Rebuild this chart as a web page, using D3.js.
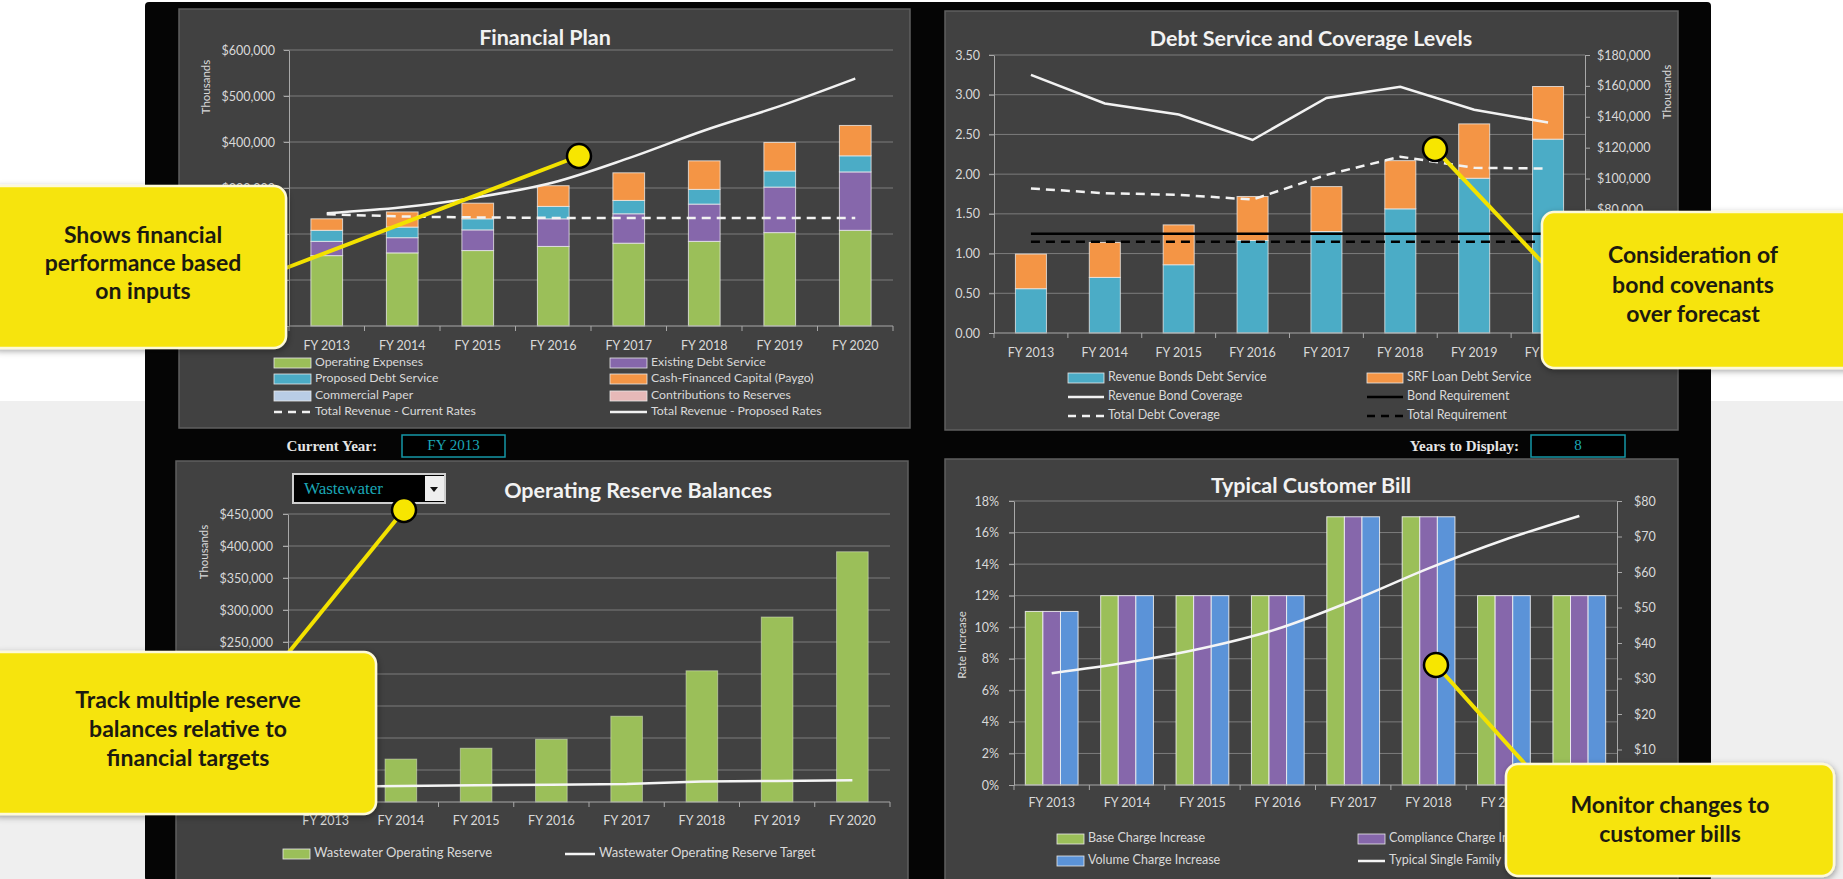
<!DOCTYPE html>
<html><head><meta charset="utf-8">
<script src="https://cdn.jsdelivr.net/npm/d3@7"></script>
<style>
body{margin:0;background:#fff;overflow:hidden}
svg text{font-family:Lato,'Open Sans',sans-serif}
svg text.serif{font-family:'Liberation Serif','DejaVu Serif',serif}
</style></head>
<body><svg id="c" width="1843" height="879"></svg>
<script>
// ---------------- DATA ----------------
const years = ["FY 2013","FY 2014","FY 2015","FY 2016","FY 2017","FY 2018","FY 2019","FY 2020"];

// Financial Plan ($ thousands)
const opExpenses      = [153000,159000,164000,173000,180000,184000,203000,208000];
const existingDebt    = [31000,33000,45000,60000,64000,81000,99000,127000];
const proposedDebt    = [24000,23000,24000,27000,29000,32000,35000,35000];
const paygo           = [25000,33000,34000,45000,60000,62000,62000,66000];
const commercialPaper = [0,0,0,0,0,0,0,0];
const contributions   = [0,0,0,0,0,0,0,0];
const revenueCurrent  = [243000,238000,236000,235000,235000,235000,235000,235000];
const revenueProposed = [245000,258000,280000,312000,365000,425000,478000,538000];
const fpTicks = [0,100000,200000,300000,400000,500000,600000];

// Debt Service and Coverage
const revBondDS         = [28700,36000,44200,59900,65700,80400,100200,125500];
const srfLoanDS         = [22400,22600,25800,28500,29100,31200,35200,34100];
const revBondCoverage   = [3.25,2.89,2.75,2.43,2.96,3.10,2.81,2.65];
const totalDebtCoverage = [1.82,1.76,1.74,1.68,1.99,2.22,2.08,2.07];
const bondRequirement   = [1.25,1.25,1.25,1.25,1.25,1.25,1.25,1.25];
const totalRequirement  = [1.15,1.15,1.15,1.15,1.15,1.15,1.15,1.15];
const covTicks = [0,0.5,1,1.5,2,2.5,3,3.5];
const dsTicks  = [0,20000,40000,60000,80000,100000,120000,140000,160000,180000];

// Operating Reserve Balances
const reserve       = [50000,67000,84000,98000,134000,205000,289000,391000];
const reserveTarget = [24000,25000,26000,27000,28000,32000,33000,34000];
const resTicks = [0,50000,100000,150000,200000,250000,300000,350000,400000,450000];

// Typical Customer Bill
const baseCharge       = [0.11,0.12,0.12,0.12,0.17,0.17,0.12,0.12];
const complianceCharge = [0.11,0.12,0.12,0.12,0.17,0.17,0.12,0.12];
const volumeCharge     = [0.11,0.12,0.12,0.12,0.17,0.17,0.12,0.12];
const typicalBill      = [31.5,34.5,38.5,44,52,61,69,75.8];
const rateTicks = [0,0.02,0.04,0.06,0.08,0.10,0.12,0.14,0.16,0.18];
const billTicks = [0,10,20,30,40,50,60,70,80];

// ---------------- STYLE ----------------
const C = {green:"#9bbf59",purple:"#8667ab",teal:"#4bacc6",orange:"#f49545",lblue:"#b9cde5",pink:"#e6b9b8",
  blue:"#5b93d8",grid:"#7c7c7c",axis:"#a8a8a8",txt:"#d9d9d9",panel:"#414141",yellow:"#f6e40a"};

const svg = d3.select("#c");
const W=1843,H=879;
const defs = svg.append("defs");
const f = defs.append("filter").attr("id","sh").attr("x","-10%").attr("y","-10%").attr("width","130%").attr("height","130%");
f.append("feDropShadow").attr("dx",1).attr("dy",2).attr("stdDeviation",3).attr("flood-color","#000").attr("flood-opacity",0.35);

svg.append("rect").attr("width",W).attr("height",401).attr("fill","#ffffff");
svg.append("rect").attr("y",401).attr("width",W).attr("height",H-401).attr("fill","#efefef");
svg.append("rect").attr("x",145).attr("y",2).attr("width",1711-145).attr("height",H).attr("rx",4).attr("fill","#050505");

[[179,9,910,428],[945,11,1678,430],[176,461,908,900],[945,459,1678,900]].forEach(p=>{
  svg.append("rect").attr("x",p[0]).attr("y",p[1]).attr("width",p[2]-p[0]).attr("height",p[3]-p[1])
    .attr("fill",C.panel).attr("stroke","#5f5f5f").attr("stroke-width",1.5);
});

function styleAxis(g,fs){
  g.attr("font-family","Lato, sans-serif").attr("font-size",fs||12.5);
  g.select(".domain").attr("stroke",C.axis);
  g.selectAll(".tick line").attr("stroke",C.axis);
  g.selectAll(".tick text").attr("fill",C.txt);
}
function grid(g,ticks,y,x0,x1){
  g.selectAll(null).data(ticks).join("line").attr("x1",x0).attr("x2",x1)
    .attr("y1",d=>y(d)).attr("y2",d=>y(d)).attr("stroke",C.grid).attr("stroke-width",1);
}
function catAxis(g,x,y0,labelY){
  const r = x.range(), step = x.step();
  g.append("line").attr("x1",r[0]).attr("x2",r[1]).attr("y1",y0).attr("y2",y0).attr("stroke",C.axis);
  g.selectAll(null).data(d3.range(years.length+1)).join("line")
    .attr("x1",i=>r[0]+i*step).attr("x2",i=>r[0]+i*step).attr("y1",y0).attr("y2",y0+5).attr("stroke",C.axis);
  g.selectAll(null).data(years).join("text").attr("x",d=>x(d)+x.bandwidth()/2).attr("y",labelY)
    .attr("text-anchor","middle").attr("dominant-baseline","middle").attr("fill",C.txt).attr("font-size",12.5).text(d=>d);
}
function title(t,x,y){
  svg.append("text").attr("x",x).attr("y",y).attr("text-anchor","middle").attr("dominant-baseline","middle")
    .attr("fill","#f2f2f2").attr("font-weight","bold").attr("font-size",21.5).text(t);
}
function vlabel(t,x,y){
  svg.append("text").attr("transform",`translate(${x},${y}) rotate(-90)`).attr("text-anchor","middle")
    .attr("dominant-baseline","middle").attr("fill",C.txt).attr("font-size",11.5).text(t);
}
function legend(items,fs){
  items.forEach(it=>{
    const g = svg.append("g");
    if(it.type==="rect"){
      g.append("rect").attr("x",it.x).attr("y",it.y-5).attr("width",it.w).attr("height",10)
        .attr("fill",it.color).attr("stroke","#e8e8e8").attr("stroke-width",0.8);
    } else {
      g.append("line").attr("x1",it.x).attr("x2",it.x+it.w).attr("y1",it.y).attr("y2",it.y)
        .attr("stroke",it.color).attr("stroke-width",2.5).attr("stroke-dasharray",it.type==="dash"?"8,6":null);
    }
    g.append("text").attr("x",it.x+it.w+4).attr("y",it.y).attr("dominant-baseline","middle")
      .attr("fill",C.txt).attr("font-size",fs).text(it.label);
  });
}

// ---------------- FINANCIAL PLAN ----------------
{
  const g = svg.append("g");
  const x = d3.scaleBand().domain(years).range([289,893]).paddingInner(0.58).paddingOuter(0.29);
  const y = d3.scaleLinear().domain([0,600000]).range([326,50]);
  grid(g,fpTicks.slice(1),y,283,893);
  const ya = g.append("g").attr("transform","translate(289,0)")
    .call(d3.axisLeft(y).tickValues(fpTicks).tickFormat(d=>"$"+d3.format(",")(d)).tickSize(5).tickSizeOuter(0).tickPadding(9));
  styleAxis(ya);
  const table = years.map((yr,i)=>({year:yr,opExpenses:opExpenses[i],existingDebt:existingDebt[i],proposedDebt:proposedDebt[i],
     paygo:paygo[i],commercialPaper:commercialPaper[i],contributions:contributions[i]}));
  const keys = ["opExpenses","existingDebt","proposedDebt","paygo","commercialPaper","contributions"];
  const cols = [C.green,C.purple,C.teal,C.orange,C.lblue,C.pink];
  const st = d3.stack().keys(keys)(table);
  g.selectAll(null).data(st).join("g").attr("fill",(d,i)=>cols[i])
    .selectAll("rect").data(d=>d.filter(s=>s[1]>s[0])).join("rect")
    .attr("x",d=>x(d.data.year)).attr("width",x.bandwidth())
    .attr("y",d=>y(d[1])).attr("height",d=>y(d[0])-y(d[1]))
    .attr("stroke","rgba(240,240,240,0.75)").attr("stroke-width",1);
  catAxis(g,x,326,347);
  const cx = (d,i)=>x(years[i])+x.bandwidth()/2;
  g.append("path").datum(revenueCurrent).attr("fill","none").attr("stroke","#f2f2f2").attr("stroke-width",2.5)
    .attr("stroke-dasharray","9,6").attr("d",d3.line().x(cx).y(d=>y(d)));
  g.append("path").datum(revenueProposed).attr("fill","none").attr("stroke","#f2f2f2").attr("stroke-width",2.5)
    .attr("d",d3.line().x(cx).y(d=>y(d)).curve(d3.curveMonotoneX));
  title("Financial Plan",545,39);
  vlabel("Thousands",207,87);
  legend([
    {type:"rect",x:274,y:363,w:37,color:C.green,label:"Operating Expenses"},
    {type:"rect",x:610,y:363,w:37,color:C.purple,label:"Existing Debt Service"},
    {type:"rect",x:274,y:379,w:37,color:C.teal,label:"Proposed Debt Service"},
    {type:"rect",x:610,y:379,w:37,color:C.orange,label:"Cash-Financed Capital (Paygo)"},
    {type:"rect",x:274,y:396,w:37,color:C.lblue,label:"Commercial Paper"},
    {type:"rect",x:610,y:396,w:37,color:C.pink,label:"Contributions to Reserves"},
    {type:"dash",x:274,y:412,w:37,color:"#f2f2f2",label:"Total Revenue - Current Rates"},
    {type:"line",x:610,y:412,w:37,color:"#f2f2f2",label:"Total Revenue - Proposed Rates"}
  ],12.3);
}

// ---------------- DEBT SERVICE ----------------
{
  const g = svg.append("g");
  const x = d3.scaleBand().domain(years).range([994,1585]).paddingInner(0.58).paddingOuter(0.29);
  const yL = d3.scaleLinear().domain([0,3.5]).range([333,55]);
  const yR = d3.scaleLinear().domain([0,180000]).range([333,55]);
  grid(g,covTicks.slice(1),yL,989,1585);
  const la = g.append("g").attr("transform","translate(994,0)")
    .call(d3.axisLeft(yL).tickValues(covTicks).tickFormat(d3.format(".2f")).tickSize(5).tickSizeOuter(0).tickPadding(9));
  styleAxis(la);
  const ra = g.append("g").attr("transform","translate(1585,0)")
    .call(d3.axisRight(yR).tickValues(dsTicks).tickFormat(d=>"$"+d3.format(",")(d)).tickSize(5).tickSizeOuter(0).tickPadding(7));
  styleAxis(ra);
  const table = years.map((yr,i)=>({year:yr,rev:revBondDS[i],srf:srfLoanDS[i]}));
  const st = d3.stack().keys(["rev","srf"])(table);
  g.selectAll(null).data(st).join("g").attr("fill",(d,i)=>[C.teal,C.orange][i])
    .selectAll("rect").data(d=>d).join("rect")
    .attr("x",d=>x(d.data.year)).attr("width",x.bandwidth())
    .attr("y",d=>yR(d[1])).attr("height",d=>yR(d[0])-yR(d[1]))
    .attr("stroke","rgba(240,240,240,0.75)").attr("stroke-width",1);
  catAxis(g,x,333,354);
  const cx = (d,i)=>x(years[i])+x.bandwidth()/2;
  const ln = d3.line().x(cx).y(d=>yL(d));
  g.append("path").datum(bondRequirement).attr("fill","none").attr("stroke","#000").attr("stroke-width",2.5).attr("d",ln);
  g.append("path").datum(totalRequirement).attr("fill","none").attr("stroke","#000").attr("stroke-width",2.5).attr("stroke-dasharray","9,6").attr("d",ln);
  g.append("path").datum(revBondCoverage).attr("fill","none").attr("stroke","#f2f2f2").attr("stroke-width",2.5).attr("d",ln);
  g.append("path").datum(totalDebtCoverage).attr("fill","none").attr("stroke","#f2f2f2").attr("stroke-width",2.5).attr("stroke-dasharray","9,6").attr("d",ln);
  title("Debt Service and Coverage Levels",1311,40);
  vlabel("Thousands",1668,92);
  legend([
    {type:"rect",x:1068,y:378,w:36,color:C.teal,label:"Revenue Bonds Debt Service"},
    {type:"rect",x:1367,y:378,w:36,color:C.orange,label:"SRF Loan Debt Service"},
    {type:"line",x:1068,y:397,w:36,color:"#f2f2f2",label:"Revenue Bond Coverage"},
    {type:"line",x:1367,y:397,w:36,color:"#000",label:"Bond Requirement"},
    {type:"dash",x:1068,y:416,w:36,color:"#f2f2f2",label:"Total Debt Coverage"},
    {type:"dash",x:1367,y:416,w:36,color:"#000",label:"Total Requirement"}
  ],12.5);
}

// ---------------- OPERATING RESERVE ----------------
{
  const g = svg.append("g");
  const x = d3.scaleBand().domain(years).range([288,890]).paddingInner(0.58).paddingOuter(0.29);
  const y = d3.scaleLinear().domain([0,450000]).range([802,514]);
  grid(g,resTicks.slice(1),y,283,890);
  const ya = g.append("g").attr("transform","translate(288,0)")
    .call(d3.axisLeft(y).tickValues(resTicks).tickFormat(d=>"$"+d3.format(",")(d)).tickSize(5).tickSizeOuter(0).tickPadding(10));
  styleAxis(ya);
  g.selectAll(null).data(reserve).join("rect").attr("fill",C.green)
    .attr("x",(d,i)=>x(years[i])).attr("width",x.bandwidth())
    .attr("y",d=>y(d)).attr("height",d=>y(0)-y(d)).attr("stroke","rgba(230,240,210,0.5)").attr("stroke-width",1);
  catAxis(g,x,802,822);
  const cx = (d,i)=>x(years[i])+x.bandwidth()/2;
  g.append("path").datum(reserveTarget).attr("fill","none").attr("stroke","#f5f5f5").attr("stroke-width",2.5)
    .attr("d",d3.line().x(cx).y(d=>y(d)));
  title("Operating Reserve Balances",638,492);
  vlabel("Thousands",205,552);
  legend([
    {type:"rect",x:283,y:854,w:27,color:C.green,label:"Wastewater Operating Reserve"},
    {type:"line",x:565,y:854,w:30,color:"#f5f5f5",label:"Wastewater Operating Reserve Target"}
  ],13);
  // dropdown
  svg.append("rect").attr("x",293).attr("y",474).attr("width",152).attr("height",29).attr("fill","#000").attr("stroke","#cfcfcf").attr("stroke-width",2);
  svg.append("text").attr("class","serif").attr("x",304).attr("y",490).attr("dominant-baseline","middle").attr("fill","#1ba7b6")
    .attr("font-size",17).text("Wastewater");
  svg.append("rect").attr("x",425).attr("y",476).attr("width",19).attr("height",25).attr("fill","#eeeeee");
  svg.append("path").attr("d","M430,487 L438,487 L434,492 Z").attr("fill","#111");
}

// ---------------- TYPICAL CUSTOMER BILL ----------------
{
  const g = svg.append("g");
  const x = d3.scaleBand().domain(years).range([1014,1617]).paddingInner(0.3).paddingOuter(0.15);
  const xi = d3.scaleBand().domain([0,1,2]).range([0,x.bandwidth()]);
  const yL = d3.scaleLinear().domain([0,0.18]).range([785,501]);
  const yR = d3.scaleLinear().domain([0,80]).range([785,501]);
  grid(g,rateTicks.slice(1),yL,1009,1617);
  const la = g.append("g").attr("transform","translate(1014,0)")
    .call(d3.axisLeft(yL).tickValues(rateTicks).tickFormat(d3.format(".0%")).tickSize(5).tickSizeOuter(0).tickPadding(10));
  styleAxis(la);
  const ra = g.append("g").attr("transform","translate(1617,0)")
    .call(d3.axisRight(yR).tickValues(billTicks).tickFormat(d=>"$"+d).tickSize(5).tickSizeOuter(0).tickPadding(12));
  styleAxis(ra);
  const series = [baseCharge,complianceCharge,volumeCharge];
  const cols = [C.green,C.purple,C.blue];
  series.forEach((s,k)=>{
    g.selectAll(null).data(s).join("rect").attr("fill",cols[k])
      .attr("x",(d,i)=>x(years[i])+xi(k)).attr("width",xi.bandwidth())
      .attr("y",d=>yL(d)).attr("height",d=>yL(0)-yL(d)).attr("stroke","rgba(245,245,245,0.85)").attr("stroke-width",1);
  });
  catAxis(g,x,785,804);
  const cx = (d,i)=>x(years[i])+x.bandwidth()/2;
  g.append("path").datum(typicalBill).attr("fill","none").attr("stroke","#f5f5f5").attr("stroke-width",2.5)
    .attr("d",d3.line().x(cx).y(d=>yR(d)).curve(d3.curveMonotoneX));
  title("Typical Customer Bill",1311,487);
  vlabel("Rate Increase",963,645);
  legend([
    {type:"rect",x:1057,y:839,w:27,color:C.green,label:"Base Charge Increase"},
    {type:"rect",x:1358,y:839,w:27,color:C.purple,label:"Compliance Charge Increase"},
    {type:"rect",x:1057,y:861,w:27,color:C.blue,label:"Volume Charge Increase"},
    {type:"line",x:1358,y:861,w:27,color:"#f5f5f5",label:"Typical Single Family Bill"}
  ],12.5);
}

// ---------------- CONTROLS ----------------
function ctrl(label,labelRight,bx,bw,val){
  svg.append("text").attr("class","serif").attr("x",labelRight).attr("y",448).attr("text-anchor","end").attr("dominant-baseline","middle")
    .attr("fill","#e6e6e6").attr("font-weight","bold").attr("font-size",15).text(label);
  svg.append("rect").attr("x",bx).attr("y",435).attr("width",bw).attr("height",22).attr("fill","#000").attr("stroke","#1596a6").attr("stroke-width",1.5);
  svg.append("text").attr("class","serif").attr("x",bx+bw/2).attr("y",447).attr("text-anchor","middle").attr("dominant-baseline","middle")
    .attr("fill","#1ba7b6").attr("font-size",15).text(val);
}
ctrl("Current Year:",377,402,103,"FY 2013");
ctrl("Years to Display:",1519,1531,94,"8");

// ---------------- CALLOUTS ----------------
const callouts = [
  {x:-12,y:186,w:298,h:162,cx:143,lines:["Shows financial","performance based","on inputs"],ly:[237,265,293],dot:[579,156],end:[286,268]},
  {x:-12,y:652,w:388,h:162,cx:188,lines:["Track multiple reserve","balances relative to","financial targets"],ly:[702,731,760],dot:[404,510],end:[289,652]},
  {x:1542,y:212,w:320,h:156,cx:1693,lines:["Consideration of","bond covenants","over forecast"],ly:[257,287,316],dot:[1435,149],end:[1542,262]},
  {x:1506,y:764,w:328,h:112,cx:1670,lines:["Monitor changes to","customer bills"],ly:[807,836],dot:[1436,665],end:[1525,764]}
];
callouts.forEach(c=>{
  svg.append("line").attr("x1",c.dot[0]).attr("y1",c.dot[1]).attr("x2",c.end[0]).attr("y2",c.end[1])
    .attr("stroke","#f3e200").attr("stroke-width",4);
});
callouts.forEach(c=>{
  svg.append("rect").attr("x",c.x).attr("y",c.y).attr("width",c.w).attr("height",c.h).attr("rx",12)
    .attr("fill",C.yellow).attr("stroke","#fdf9d8").attr("stroke-width",2.5).attr("filter","url(#sh)");
  c.lines.forEach((t,i)=>svg.append("text").attr("x",c.cx).attr("y",c.ly[i]).attr("text-anchor","middle")
    .attr("dominant-baseline","middle").attr("fill","#1c1a10").attr("font-weight","bold").attr("font-size",23).text(t));
});
callouts.forEach(c=>{
  svg.append("circle").attr("cx",c.dot[0]).attr("cy",c.dot[1]).attr("r",12).attr("fill","#f7e600")
    .attr("stroke","#000").attr("stroke-width",2.5);
});
</script>
</body></html>
